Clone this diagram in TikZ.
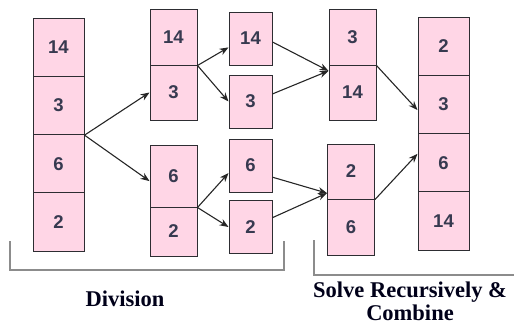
\documentclass[tikz,border=0pt]{standalone}
\usepackage{fontspec}
\setmainfont{Liberation Serif}
\newfontfamily\numfont{Liberation Sans}
\usetikzlibrary{arrows.meta}
\definecolor{cellpink}{RGB}{255,214,230}
\definecolor{cellline}{RGB}{45,45,50}
\definecolor{numcol}{RGB}{55,58,80}
\definecolor{brk}{RGB}{140,140,140}
\tikzset{
  cell/.style={draw=cellline, fill=cellpink, line width=1pt, inner sep=0pt,
    font=\numfont\bfseries\fontsize{18.5}{18.5}\selectfont, text=numcol},
  c1/.style={cell, minimum width=51pt, minimum height=58.3pt},
  c2/.style={cell, minimum width=47pt},
  c3/.style={cell, minimum width=43pt, minimum height=53pt},
  c4/.style={cell, minimum width=47pt},
  c5/.style={cell, minimum width=51pt, minimum height=58.3pt},
  arr/.style={-{Stealth[length=9pt,width=7pt]}, line width=1.1pt, draw=black!85},
  bracket/.style={draw=brk, line width=1.4pt},
  lbl/.style={font=\bfseries\fontsize{22.5}{23}\selectfont, text=black!90!blue, align=center}
}
\begin{document}
\begin{tikzpicture}[x=1pt,y=-1pt]
\useasboundingbox (0,0) rectangle (514,324);
% column 1
\node[c1] (a1) at (58.5,47.2) {14};
\node[c1] (a2) at (58.5,105.5) {3};
\node[c1] (a3) at (58.5,163.8) {6};
\node[c1] (a4) at (58.5,222.1) {2};
% column 2
\node[c2, minimum height=56pt] (b1) at (173.5,37) {14};
\node[c2, minimum height=55pt] (b2) at (173.5,92.5) {3};
\node[c2, minimum height=62pt] (b3) at (173.5,176) {6};
\node[c2, minimum height=49pt] (b4) at (173.5,231.5) {2};
% column 3
\node[c3] (c1) at (250.5,38.5) {14};
\node[c3] (c2) at (250.5,101.5) {3};
\node[c3] (c3) at (250.5,165.5) {6};
\node[c3] (c4) at (250.5,227) {2};
% column 4
\node[c4, minimum height=56pt] (d1) at (352.5,37) {3};
\node[c4, minimum height=55pt] (d2) at (352.5,92.5) {14};
\node[c4, minimum height=55pt] (d3) at (351,171.5) {2};
\node[c4, minimum height=56pt] (d4) at (351,227) {6};
% column 5
\node[c5] (e1) at (443.5,46.2) {2};
\node[c5] (e2) at (443.5,104.5) {3};
\node[c5] (e3) at (443.5,162.8) {6};
\node[c5] (e4) at (443.5,221.1) {14};
% arrows: division
\draw[arr] (a2.south east) -- (b2.west);
\draw[arr] (a2.south east) -- (b3.192);
\draw[arr] (b1.south east) -- (c1.202);
\draw[arr] (b1.south east) -- (c2.west);
\draw[arr] (b3.south east) -- (c3.199);
\draw[arr] (b3.south east) -- (c4.west);
% arrows: combine
\draw[arr] (c1.-9) -- (d2.138);
\draw[arr] (c2.19) -- (d2.138);
\draw[arr] (c3.-28) -- (d3.222);
\draw[arr] (c4.23) -- (d3.222);
\draw[arr] (d1.south east) -- (e2.192);
\draw[arr] (d3.south east) -- (e3.161);
% brackets
\coordinate (l1) at (10,241);
\coordinate (l2) at (284,241);
\coordinate (r1) at (314,240);
\coordinate (r2) at (514,275);
\draw[bracket] (l1) |- (l2 |- 0,270) -- (l2);
\draw[bracket] (r1) |- (r2);
% labels
\node[lbl] (div) at (125,299) {Division};
\node[lbl] (src) at (410,301) {Solve Recursively \&\\Combine};
\end{tikzpicture}
\end{document}
